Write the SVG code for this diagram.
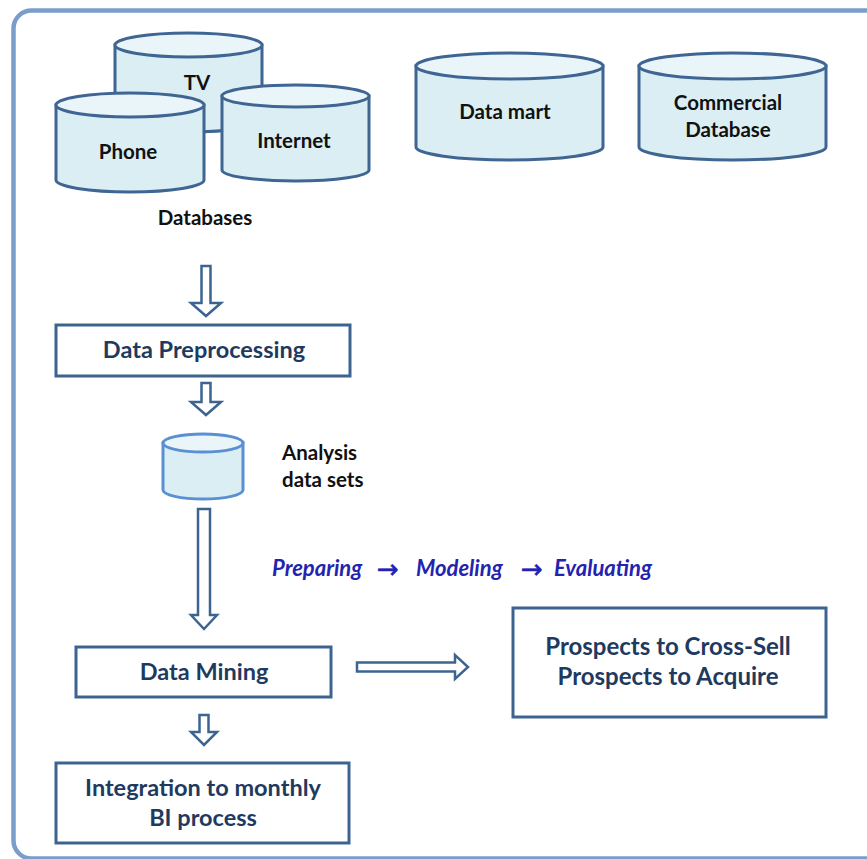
<svg xmlns="http://www.w3.org/2000/svg" width="867" height="859" viewBox="0 0 867 859">
  <style>
    .frame { fill: none; stroke: #7b9dca; stroke-width: 4.5; }
    .cyl-body { fill: #dbeef4; stroke: #3f6593; stroke-width: 3; }
    .cyl-top { fill: #eaf5fa; stroke: #3f6593; stroke-width: 3; }
    .cyl-light .cyl-body, .cyl-light .cyl-top { stroke: #5b8fd3; }
    .box { fill: #ffffff; stroke: #3d6491; stroke-width: 3; }
    .arrow { fill: #ffffff; stroke: #3d6491; stroke-width: 2.5; stroke-linejoin: miter; }
    .lbl { font-family: Lato, "Liberation Sans", sans-serif; font-weight: bold; font-size: 20.5px; fill: #111111; text-anchor: middle; }
    .lbl-left { text-anchor: start; }
    .boxlbl { font-family: Lato, "Liberation Sans", sans-serif; font-weight: bold; font-size: 23.5px; fill: #1f3a5f; text-anchor: middle; }
    .boxlbl-lg { font-size: 24px; }
    .steps { font-family: Lato, "Liberation Sans", sans-serif; font-weight: bold; font-style: italic; font-size: 22px; fill: #2323b0; }
    .steps-arrow { font-family: "DejaVu Sans", sans-serif; font-size: 26px; fill: #2323b0; stroke: #2323b0; stroke-width: 0.6; }
  </style>

  <!-- outer frame -->
  <rect class="frame" x="13.5" y="10.5" width="880" height="848" rx="18"/>

  <!-- source databases -->
  <g id="db-tv">
    <path class="cyl-body" d="M115,45 L115,120 A73.5,12 0 0 0 262,120 L262,45 Z"/>
    <ellipse class="cyl-top" cx="188.5" cy="45" rx="73.5" ry="12"/>
    <text class="lbl" x="197" y="90">TV</text>
  </g>
  <g id="db-phone">
    <path class="cyl-body" d="M56,105 L56,180 A74,12 0 0 0 204,180 L204,105 Z"/>
    <ellipse class="cyl-top" cx="130" cy="105" rx="74" ry="12"/>
    <text class="lbl" x="128" y="159">Phone</text>
  </g>
  <g id="db-internet">
    <path class="cyl-body" d="M222,96 L222,170 A73.5,11 0 0 0 369,170 L369,96 Z"/>
    <ellipse class="cyl-top" cx="295.5" cy="96" rx="73.5" ry="11"/>
    <text class="lbl" x="294" y="148">Internet</text>
  </g>
  <g id="databases-label">
    <text class="lbl" x="205" y="225">Databases</text>
  </g>
  <g id="db-datamart">
    <path class="cyl-body" d="M416,66 L416,147 A93.5,13 0 0 0 603,147 L603,66 Z"/>
    <ellipse class="cyl-top" cx="509.5" cy="66" rx="93.5" ry="13"/>
    <text class="lbl" x="505" y="119">Data mart</text>
  </g>
  <g id="db-commercial">
    <path class="cyl-body" d="M639,66 L639,147 A93.5,13 0 0 0 826,147 L826,66 Z"/>
    <ellipse class="cyl-top" cx="732.5" cy="66" rx="93.5" ry="13"/>
    <text class="lbl" x="728" y="110">Commercial</text>
    <text class="lbl" x="728" y="137">Database</text>
  </g>

  <!-- process steps -->
  <g id="preprocessing">
    <rect class="box" x="56" y="325" width="294" height="51"/>
    <text class="boxlbl" x="204" y="358">Data Preprocessing</text>
  </g>
  <g id="analysis-sets" class="cyl-light">
    <path class="cyl-body" d="M163,443 L163,490 A40,9 0 0 0 243,490 L243,443 Z"/>
    <ellipse class="cyl-top" cx="203" cy="443" rx="40" ry="9"/>
    <text class="lbl lbl-left" x="282" y="460">Analysis</text>
    <text class="lbl lbl-left" x="282" y="487">data sets</text>
  </g>
  <g id="modeling-steps">
    <text class="steps" x="272" y="576">Preparing</text>
    <text class="steps-arrow" x="377" y="578">→</text>
    <text class="steps" x="416" y="576">Modeling</text>
    <text class="steps-arrow" x="521" y="578">→</text>
    <text class="steps" x="554" y="576">Evaluating</text>
  </g>
  <g id="data-mining">
    <rect class="box" x="76" y="647" width="255" height="50"/>
    <text class="boxlbl" x="204" y="680">Data Mining</text>
  </g>
  <g id="prospects">
    <rect class="box" x="513" y="608" width="313" height="109"/>
    <text class="boxlbl boxlbl-lg" x="668" y="655">Prospects to Cross-Sell</text>
    <text class="boxlbl boxlbl-lg" x="668" y="685">Prospects to Acquire</text>
  </g>
  <g id="integration">
    <rect class="box" x="56" y="763" width="293" height="80"/>
    <text class="boxlbl" x="203" y="796">Integration to monthly</text>
    <text class="boxlbl" x="203" y="826">BI process</text>
  </g>

  <!-- block arrows -->
  <g id="connectors">
    <polygon class="arrow" points="201.5,266 210.5,266 210.5,303 221,303 206,316 191,303 201.5,303"/>
    <polygon class="arrow" points="201.5,383 210.5,383 210.5,402 221,402 206,415 191,402 201.5,402"/>
    <polygon class="arrow" points="198,509 210,509 210,615 217,615 204,629 191,615 198,615"/>
    <polygon class="arrow" points="199.5,715 208.5,715 208.5,732 217,732 204,745 191,732 199.5,732"/>
    <polygon class="arrow" points="357,662.5 455,662.5 455,655 468,667 455,679 455,671.5 357,671.5"/>
  </g>
</svg>
